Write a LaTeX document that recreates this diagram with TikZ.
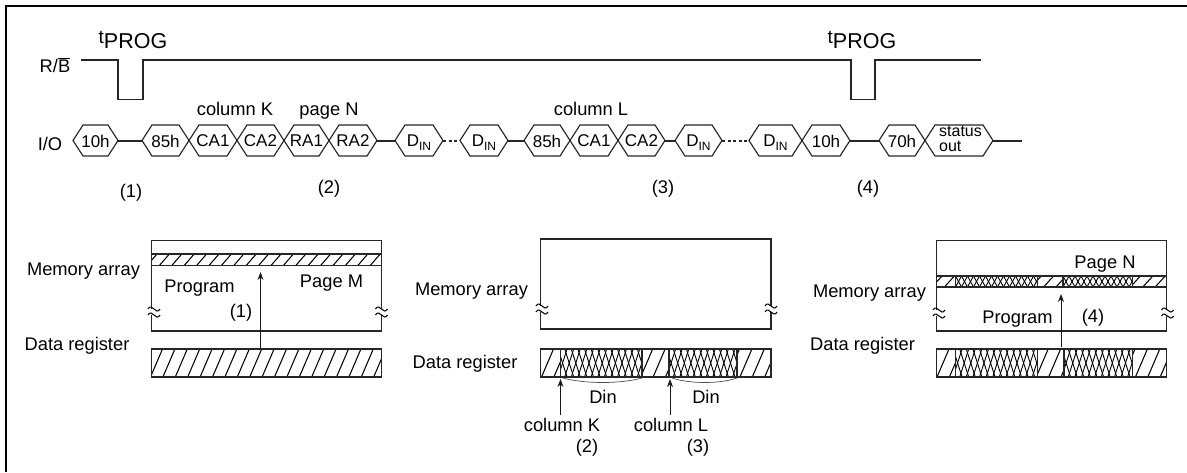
\documentclass[tikz,border=0pt]{standalone}
\usepackage{fontspec}
\setmainfont{Liberation Sans}
\usetikzlibrary{arrows.meta}
\newcommand{\Din}{D\smash{\raisebox{-4pt}{\fontsize{12}{12}\selectfont IN}}}
\newcommand{\HexCell}[4]{%
\draw[sig] (#2,140.5) -- ({#2+10},125) -- ({#3-10},125) -- (#3,140.5) %
  -- ({#3-10},156) -- ({#2+10},156) -- cycle; %
\pgfmathsetmacro{\CellWd}{#3-#2} %
\node[cell,minimum width=\CellWd pt] (#1) at ({(#2+#3)/2},141) {#4}; %
}
\newcommand{\BreakMark}[2]{%
\fill[white] (#1-7,#2-3) rectangle (#1+7,#2+3); %
\draw[thin line] (#1-6,#2-3) .. controls (#1-2,#2-10) and (#1+2,#2+4) .. (#1+6,#2-3); %
\draw[thin line] (#1-6,#2+3) .. controls (#1-2,#2-4) and (#1+2,#2+10) .. (#1+6,#2+3); %
}
\newcommand{\HatchBar}[6]{%
\begin{scope}
  \clip (#1,#2) rectangle (#3,#4);
  \foreach \k in {0,...,20}
    \draw[thin line] ({#5+\k*12.4},#4) -- ({#5+\k*12.4+#6},#2);
\end{scope}
\draw[sig] (#1,#2) rectangle (#3,#4); %
}
\newcommand{\CrossBar}[6]{%
\fill[white] (#1,#2) rectangle (#3,#4); %
\begin{scope}
  \clip (#1,#2) rectangle (#3,#4);
  \pgfmathtruncatemacro{\CrossNum}{(#3-#1+#5)/#6+1}
  \foreach \k in {0,...,\CrossNum} {
    \draw[cross line] ({#1-#5+\k*#6},#4) -- ({#1+\k*#6},#2);
    \draw[cross line] ({#1-#5+\k*#6},#2) -- ({#1+\k*#6},#4);
  }
\end{scope}
\draw[sig] (#1,#2) rectangle (#3,#4); %
}
\tikzset{
  sig/.style={line width=1.15pt,color=black!85},
  thin line/.style={line width=1.05pt,color=black},
  cross line/.style={line width=0.9pt,color=black},
  dots/.style={dash pattern=on 3pt off 2.5pt},
  cell/.style={rectangle,inner sep=0pt,minimum height=31pt,font=\fontsize{17}{17}\selectfont},
  lab/.style={anchor=base,inner sep=0pt,font=\fontsize{18.3}{20}\selectfont},
  prog/.style={-{Stealth[length=8pt,width=6pt]},line width=1pt,color=black!90}
}
\begin{document}
\begin{tikzpicture}[x=1pt,y=-1pt]
    \useasboundingbox (0,0) rectangle (1187,472);
    \draw[line width=2pt] (6,472) -- (6,6) -- (1187,6);
    % ready/busy line
    \draw[sig] (80.5,60) -- (118,60) -- (118,99.5) -- (143,99.5) -- (143,60) -- (851,60)
      -- (851,99.5) -- (875,99.5) -- (875,60) -- (981,60);
    \node[lab] (rb) at (55,72) {R/$\overline{\mbox{B}}$};
    \node[lab] (tp1) at (133,48) {\raisebox{5pt}{\fontsize{19}{19}\selectfont t}\fontsize{21.5}{22}\selectfont PROG};
    \node[lab] (tp2) at (862,48) {\raisebox{5pt}{\fontsize{19}{19}\selectfont t}\fontsize{21.5}{22}\selectfont PROG};
    % I/O line
    \node[lab] (io) at (50,150) {I/O};
    \HexCell{cmdA}{73}{118}{10h}
    \HexCell{cmdB}{142}{189}{85h}
    \HexCell{caA}{189}{237}{CA1}
    \HexCell{caB}{237}{284}{CA2}
    \HexCell{raA}{284}{329}{RA1}
    \HexCell{raB}{329}{377}{RA2}
    \HexCell{dinA}{395}{443}{\Din}
    \HexCell{dinB}{460}{508}{\Din}
    \HexCell{cmdC}{524}{570}{85h}
    \HexCell{caC}{570}{618}{CA1}
    \HexCell{caD}{618}{665}{CA2}
    \HexCell{dinC}{675}{722}{\Din}
    \HexCell{dinD}{749}{802}{\Din}
    \HexCell{cmdD}{802}{850}{10h}
    \HexCell{cmdE}{879}{925}{70h}
    \HexCell{stat}{925}{993}{\fontsize{16}{15.5}\selectfont\begin{tabular}{@{\hspace{3pt}}l@{}}status\\out\end{tabular}}
    \coordinate (ioend) at (1022,141);
    \draw[sig] (cmdA.east) -- (cmdB.west);
    \draw[sig] (raB.east) -- (dinA.west);
    \draw[sig,dots] (dinA.east) -- (dinB.west);
    \draw[sig] (dinB.east) -- (cmdC.west);
    \draw[sig] (caD.east) -- (dinC.west);
    \draw[sig,dots] (dinC.east) -- (dinD.west);
    \draw[sig] (cmdD.east) -- (cmdE.west);
    \draw[sig] (stat.east) -- (ioend);
    \node[lab] (colK) at (235,115) {column K};
    \node[lab] (pagN) at (329,115) {page N};
    \node[lab] (colL) at (591,115) {column L};
    \node[lab] (stA) at (131,197) {(1)};
    \node[lab] (stB) at (329,193) {(2)};
    \node[lab] (stC) at (663,193) {(3)};
    \node[lab] (stD) at (868,193) {(4)};
    % left array
    \draw[sig] (151.5,240.5) rectangle (381.5,331);
    \HatchBar{151.5}{254}{381.5}{265.5}{147}{10}
    \HatchBar{151.5}{349}{381.5}{377}{150.5}{12}
    \BreakMark{154}{312}
    \BreakMark{381.5}{312}
    \node[lab] (memA) at (83.5,275) {Memory array};
    \node[lab] (regA) at (77,350) {Data register};
    \node[lab] (prgA) at (199.5,292) {Program};
    \node[lab] (pgM) at (331.5,287) {Page M};
    \node[lab] (stE) at (241,317) {(1)};
    \coordinate (upA) at (260.5,349);
    \coordinate (upB) at (260.5,272);
    \draw[prog] (upA) -- (upB);
    % middle array
    \draw[sig] (540.5,239) rectangle (771,329);
    \HatchBar{540.5}{349}{771}{377}{541.5}{12}
    \CrossBar{560.5}{349}{642}{377}{9}{6.6}
    \CrossBar{669}{349}{737}{377}{9}{6.6}
    \BreakMark{542}{309}
    \BreakMark{771}{309}
    \node[lab] (memB) at (471.5,295) {Memory array};
    \node[lab] (regB) at (465,368) {Data register};
    \coordinate (kA) at (560.5,415);
    \coordinate (kB) at (560.5,379);
    \coordinate (lA) at (670,415);
    \coordinate (lB) at (670,379);
    \draw[prog] (kA) -- (kB);
    \draw[prog] (lA) -- (lB);
    \coordinate (brA) at (563,378);
    \coordinate (brB) at (642,378);
    \coordinate (brC) at (672,378);
    \coordinate (brD) at (737,378);
    \draw[line width=0.7pt,color=black!70] (brA) .. controls (585,384) and (620,384) .. (brB);
    \draw[line width=0.7pt,color=black!70] (brC) .. controls (690,384) and (720,384) .. (brD);
    \node[lab] (dinE) at (603,403) {Din};
    \node[lab] (dinF) at (706,403) {Din};
    \node[lab] (lblK) at (562,431) {column K};
    \node[lab] (lblL) at (671,431) {column L};
    \node[lab] (stF) at (587,452) {(2)};
    \node[lab] (stG) at (698,452) {(3)};
    % right array
    \draw[sig] (936.5,240.5) rectangle (1166.5,331);
    \HatchBar{936.5}{276}{1166.5}{287}{932}{10}
    \HatchBar{936.5}{349}{1166.5}{377}{937}{12}
    \CrossBar{955.5}{349}{1037.5}{377}{9}{6.6}
    \CrossBar{1064}{349}{1132.5}{377}{9}{6.6}
    \CrossBar{955.5}{276}{1037.5}{287}{6}{6}
    \CrossBar{1063}{276}{1132.5}{287}{6}{6}
    \BreakMark{939}{313}
    \BreakMark{1167.5}{313}
    \node[lab] (memC) at (869.5,297) {Memory array};
    \node[lab] (regC) at (862.5,350) {Data register};
    \node[lab] (pgN) at (1105,268) {Page N};
    \node[lab] (prgB) at (1017.5,323) {Program};
    \node[lab] (stH) at (1093,322) {(4)};
    \coordinate (upC) at (1061,347);
    \coordinate (upD) at (1061,294);
    \draw[prog] (upC) -- (upD);
  \end{tikzpicture}
\end{document}
